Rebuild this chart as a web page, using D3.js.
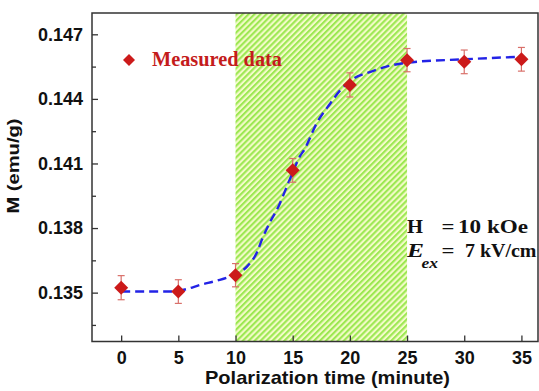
<!DOCTYPE html>
<html>
<head>
<meta charset="utf-8">
<script src="https://cdn.jsdelivr.net/npm/d3@7"></script>
<style>
  body { margin: 0; background: #fff; }
  svg { display: block; }
  .tick text { font-family: "Liberation Sans", Arial, sans-serif; font-weight: bold; font-size: 18px; fill: #111; }
</style>
</head>
<body>
<svg id="chart" width="539" height="391"></svg>
<script>
// measured data
var times = [0, 5, 10, 15, 20, 25, 30, 35];
var moments = [0.13523, 0.13505, 0.13581, 0.14068, 0.14465, 0.14580, 0.14572, 0.14584];
var errors = [0.00056, 0.00055, 0.00054, 0.00055, 0.00056, 0.00054, 0.00055, 0.00055];

// dashed fit curve
var fitTimes = [0, 4.5, 5.7, 6.9, 8.4, 9.8, 11.0, 11.9, 12.3, 13.0, 13.75, 14.35, 14.9, 15.65, 16.0, 17.1, 18.3, 19.15, 20.3, 21.8, 23.2, 25, 30, 35];
var fitMoments = [0.13505, 0.13505, 0.13516, 0.13536, 0.13556, 0.13582, 0.13621, 0.13690, 0.13745, 0.13826, 0.13899, 0.13975, 0.14045, 0.14135, 0.14163, 0.14287, 0.14380, 0.14440, 0.14494, 0.14526, 0.14550, 0.14568, 0.14584, 0.14596];

var xTicks = [0, 5, 10, 15, 20, 25, 30, 35];
var yTicks = [0.135, 0.138, 0.141, 0.144, 0.147];
var yMinor = [0.1335, 0.1365, 0.1395, 0.1425, 0.1455];
var polarizeWindow = [10, 25];

const svg = d3.select('#chart');
const plotLeft = 92, plotRight = 538, plotTop = 13, plotBottom = 341.5;
const serif = '"Liberation Serif", "Times New Roman", serif';
const sans = '"Liberation Sans", Arial, sans-serif';

const x = d3.scaleLinear().domain([-2.55, 36.45]).range([plotLeft, plotRight]);
const y = d3.scaleLinear().domain([0.13273, 0.14799]).range([plotBottom, plotTop]);

// hatch pattern for polarization window
const defs = svg.append('defs');
const pat = defs.append('pattern')
  .attr('id', 'hatch')
  .attr('patternUnits', 'userSpaceOnUse')
  .attr('width', 4.2)
  .attr('height', 4.2)
  .attr('patternTransform', 'rotate(45)');
pat.append('rect').attr('width', 4.2).attr('height', 4.2).attr('fill', '#f3fbc8');
pat.append('rect').attr('width', 2.1).attr('height', 4.2).attr('fill', '#9ce852');

svg.append('rect')
  .attr('x', x(polarizeWindow[0]))
  .attr('y', plotTop)
  .attr('width', x(polarizeWindow[1]) - x(polarizeWindow[0]))
  .attr('height', plotBottom - plotTop)
  .attr('fill', 'url(#hatch)');

// axes
svg.append('g')
  .attr('transform', `translate(0,${plotBottom})`)
  .call(d3.axisBottom(x).tickValues(xTicks).tickSizeInner(-6).tickSizeOuter(0).tickPadding(10));
svg.append('g')
  .attr('transform', `translate(${plotLeft},0)`)
  .call(d3.axisLeft(y).tickValues(yTicks).tickFormat(d3.format('.3f')).tickSizeInner(-6).tickSizeOuter(0).tickPadding(9));
svg.append('g')
  .attr('transform', `translate(${plotLeft},0)`)
  .call(d3.axisLeft(y).tickValues(yMinor).tickFormat('').tickSizeInner(-4).tickSizeOuter(0));

svg.selectAll('.domain').remove();
svg.selectAll('.tick line').attr('stroke', '#333').attr('stroke-width', 1.3);

// frame
svg.append('rect')
  .attr('x', plotLeft).attr('y', plotTop)
  .attr('width', plotRight - plotLeft).attr('height', plotBottom - plotTop)
  .attr('fill', 'none').attr('stroke', '#333').attr('stroke-width', 1.5);

// fit line
const line = d3.line()
  .x((d, i) => x(fitTimes[i]))
  .y(d => y(d))
  .curve(d3.curveMonotoneX);
svg.append('path')
  .attr('d', line(fitMoments))
  .attr('fill', 'none')
  .attr('stroke', '#2323e6')
  .attr('stroke-width', 2.4)
  .attr('stroke-dasharray', '9,5');

// error bars
const eb = svg.append('g').attr('stroke', '#d9706a').attr('stroke-width', 1.2);
times.forEach(function(t, i) {
  const cx = x(t), y0 = y(moments[i] - errors[i]), y1 = y(moments[i] + errors[i]);
  eb.append('line').attr('x1', cx).attr('x2', cx).attr('y1', y0).attr('y2', y1);
  eb.append('line').attr('x1', cx - 3.5).attr('x2', cx + 3.5).attr('y1', y0).attr('y2', y0);
  eb.append('line').attr('x1', cx - 3.5).attr('x2', cx + 3.5).attr('y1', y1).attr('y2', y1);
});

// markers
const diamond = 'M0,-7L7,0L0,7L-7,0Z';
svg.append('g').selectAll('path')
  .data(times)
  .join('path')
  .attr('d', diamond)
  .attr('transform', (d, i) => `translate(${x(d)},${y(moments[i])})`)
  .attr('fill', '#cc1a1a');

// legend
svg.append('path')
  .attr('d', 'M0,-6L6,0L0,6L-6,0Z')
  .attr('transform', 'translate(129,60)')
  .attr('fill', '#cc1a1a');
svg.append('text')
  .attr('x', 152).attr('y', 66)
  .attr('font-family', serif)
  .attr('font-weight', 'bold')
  .attr('font-size', 20)
  .attr('fill', '#c41c1c')
  .attr('textLength', 130)
  .attr('lengthAdjust', 'spacingAndGlyphs')
  .text('Measured data');

// conditions
function note(txt, px, py, size, len, italic) {
  const t = svg.append('text')
    .attr('x', px).attr('y', py)
    .attr('font-family', serif).attr('font-weight', 'bold')
    .attr('font-size', size).attr('fill', '#111')
    .attr('font-style', italic ? 'italic' : 'normal')
    .text(txt);
  if (len) t.attr('textLength', len).attr('lengthAdjust', 'spacingAndGlyphs');
  return t;
}
note('H', 407, 233, 18, 16);
note('=', 441.5, 233, 18, 13);
note('10 kOe', 458, 233, 18, 70);
note('E', 407, 256.5, 19, 17, true);
note('ex', 421.5, 268, 15, 16.5, true);
note('=', 441.5, 256.5, 18, 13);
note('7 kV/cm', 465, 256.5, 18, 71.5);

// axis titles
svg.append('text')
  .attr('x', 327.5).attr('y', 384)
  .attr('text-anchor', 'middle')
  .attr('font-family', sans).attr('font-weight', 'bold').attr('font-size', 19).attr('fill', '#111')
  .attr('textLength', 245).attr('lengthAdjust', 'spacingAndGlyphs')
  .text('Polarization time (minute)');
svg.append('text')
  .attr('transform', 'translate(19,166) rotate(-90)')
  .attr('text-anchor', 'middle')
  .attr('font-family', sans).attr('font-weight', 'bold').attr('font-size', 17).attr('fill', '#111')
  .attr('textLength', 95).attr('lengthAdjust', 'spacingAndGlyphs')
  .text('M (emu/g)');
</script>
</body>
</html>
